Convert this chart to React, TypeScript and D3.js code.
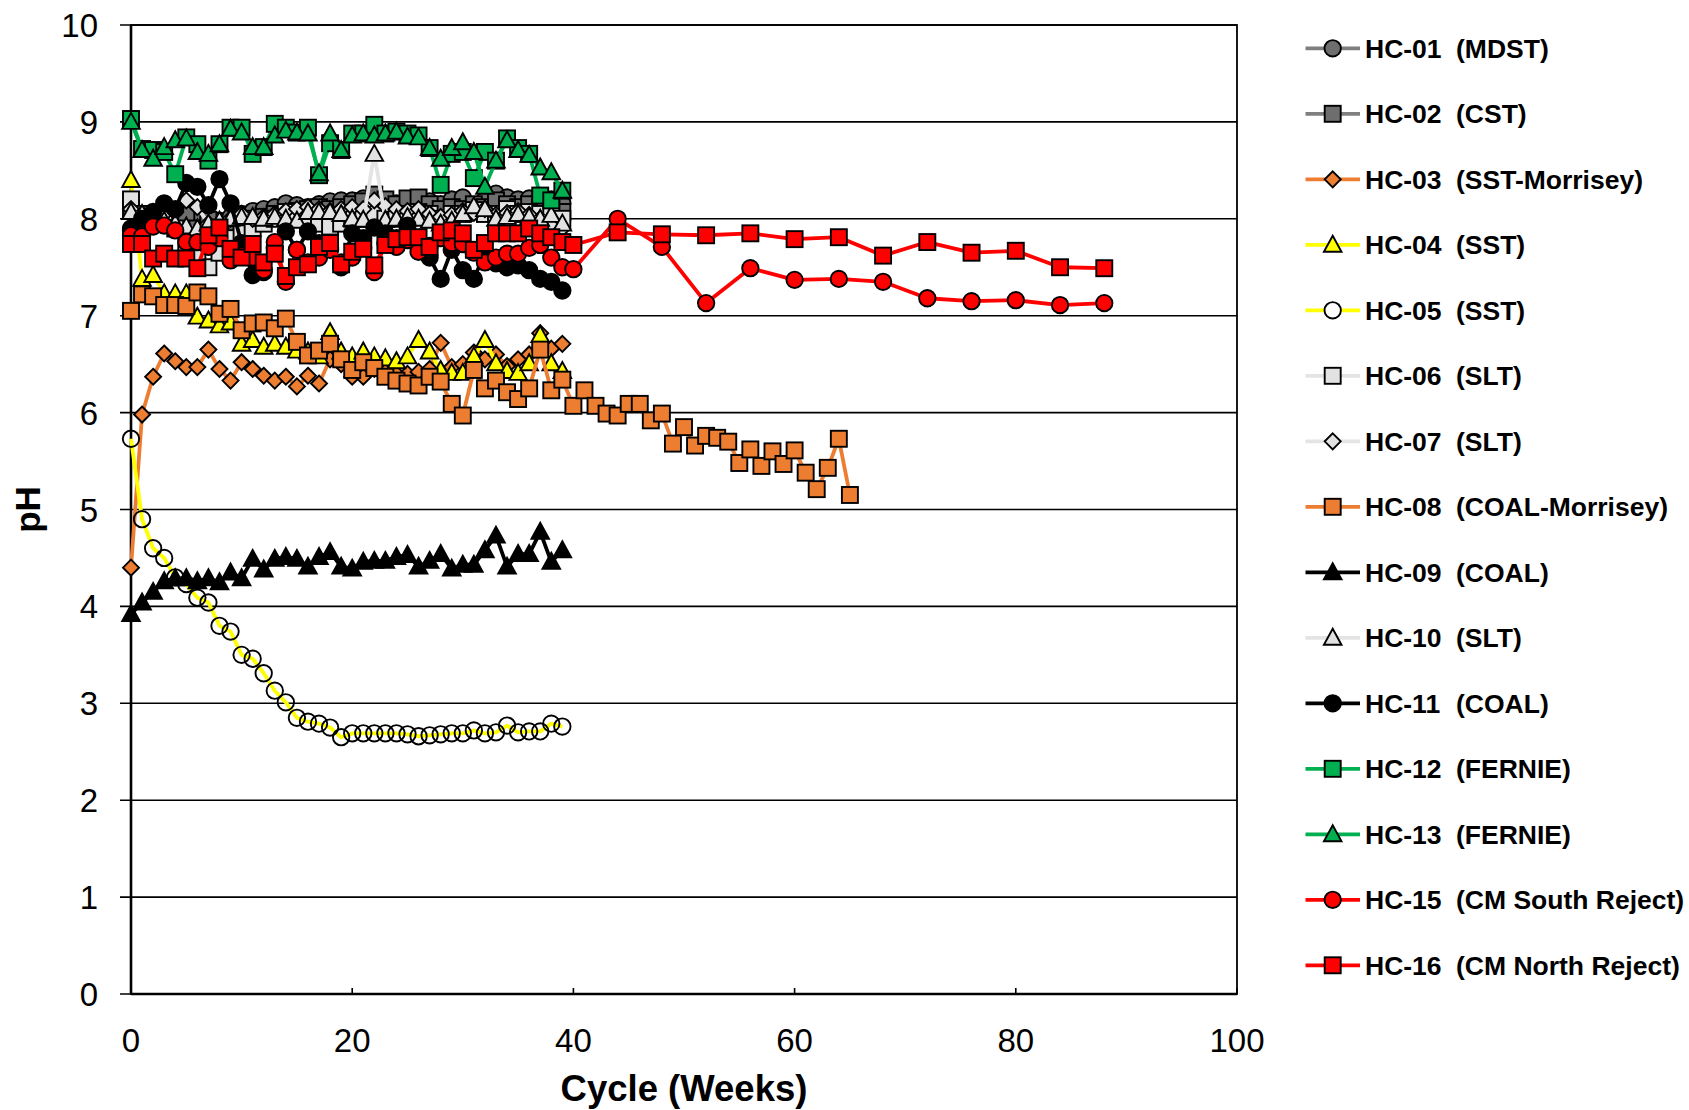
import React from 'react';
import * as d3 from 'd3';

const W = 1689;
const H = 1110;

const X_TICKS = [0, 20, 40, 60, 80, 100];
const Y_TICKS = [0, 1, 2, 3, 4, 5, 6, 7, 8, 9, 10];

const WEEKS_0_39 = d3.range(0, 40);
const WEEKS_0_40 = d3.range(0, 41);
const WEEKS_0_65 = d3.range(0, 66);
const WEEKS_LATE = [44, 48, 52, 56, 60, 64, 68, 72, 76, 80, 84, 88];

const HC01 = [7.88, 7.95, 8.0, 8.0, 8.02, 8.0, 8.05, 8.0, 7.98, 8.02, 8.05, 8.08, 8.1, 8.12, 8.16, 8.14, 8.12, 8.15, 8.18, 8.19, 8.19, 8.21, 8.2, 8.18, 8.16, 8.19, 8.2, 8.18, 8.15, 8.2, 8.22, 8.14, 8.2, 8.26, 8.22, 8.2, 8.21, 8.22, 8.2, 8.16];
const HC02 = [8.1, 8.05, 8.0, 7.98, 7.95, 8.05, 7.9, 7.99, 7.85, 7.9, 7.95, 8.0, 8.02, 8.05, 8.05, 8.08, 8.1, 8.12, 8.1, 8.12, 8.15, 8.18, 8.25, 8.2, 8.15, 8.21, 8.22, 8.15, 8.1, 8.12, 8.1, 8.15, 8.12, 8.19, 8.15, 8.12, 8.15, 8.12, 8.1, 8.07];
const HC03 = [4.4, 5.98, 6.37, 6.61, 6.53, 6.47, 6.47, 6.65, 6.45, 6.33, 6.52, 6.45, 6.38, 6.33, 6.37, 6.27, 6.38, 6.3, 6.55, 6.5, 6.37, 6.37, 6.45, 6.42, 6.4, 6.4, 6.42, 6.45, 6.72, 6.47, 6.5, 6.62, 6.55, 6.6, 6.48, 6.55, 6.6, 6.82, 6.66, 6.71];
const HC04 = [8.4, 7.38, 7.42, 7.23, 7.23, 7.23, 6.99, 6.95, 6.9, 6.93, 6.71, 6.75, 6.68, 6.71, 6.68, 6.64, 6.63, 6.58, 6.83, 6.63, 6.58, 6.63, 6.58, 6.56, 6.53, 6.58, 6.75, 6.63, 6.44, 6.41, 6.41, 6.58, 6.75, 6.51, 6.43, 6.41, 6.51, 6.8, 6.51, 6.43];
const HC05 = [5.73, 4.9, 4.6, 4.5, 4.3, 4.23, 4.09, 4.04, 3.8, 3.74, 3.5, 3.46, 3.31, 3.13, 3.01, 2.85, 2.81, 2.79, 2.75, 2.65, 2.69, 2.69, 2.69, 2.69, 2.69, 2.68, 2.66, 2.67, 2.68, 2.69, 2.69, 2.72, 2.69, 2.7, 2.77, 2.7, 2.71, 2.71, 2.79, 2.76];
const HC06 = [8.2, 8.05, 8.0, 7.95, 7.9, 7.7, 7.6, 7.5, 7.65, 7.8, 7.85, 7.9, 7.95, 8.0, 8.07, 8.0, 7.95, 7.95, 7.92, 7.95, 8.0, 8.0, 8.05, 8.0, 8.0, 8.05, 8.07, 8.05, 8.0, 8.05, 8.05, 8.09, 8.05, 8.05, 8.1, 8.05, 8.07, 8.05, 8.05, 8.0];
const HC07 = [8.1, 8.05, 8.0, 8.05, 8.07, 8.19, 8.12, 7.95, 7.9, 8.0, 8.05, 8.0, 8.02, 8.05, 8.08, 8.1, 8.12, 8.1, 8.08, 8.1, 8.12, 8.1, 8.19, 8.13, 8.1, 8.08, 8.1, 8.05, 8.02, 8.04, 8.08, 8.06, 8.1, 8.04, 8.06, 8.08, 8.04, 8.0, 7.93, 7.9];
const HC08 = [7.05, 7.22, 7.2, 7.11, 7.11, 7.1, 7.24, 7.2, 7.02, 7.07, 6.85, 6.92, 6.93, 6.87, 6.97, 6.73, 6.59, 6.64, 6.71, 6.55, 6.44, 6.52, 6.46, 6.37, 6.33, 6.3, 6.28, 6.37, 6.32, 6.09, 5.97, 6.44, 6.25, 6.33, 6.21, 6.14, 6.25, 6.65, 6.23, 6.34, 6.07, 6.23, 6.07, 5.99, 5.97, 6.09, 6.09, 5.92, 5.99, 5.68, 5.85, 5.66, 5.76, 5.74, 5.7, 5.48, 5.62, 5.45, 5.6, 5.47, 5.61, 5.38, 5.21, 5.43, 5.73, 5.15];
const HC09 = [3.92, 4.04, 4.15, 4.26, 4.29, 4.29, 4.26, 4.29, 4.25, 4.35, 4.29, 4.49, 4.38, 4.49, 4.51, 4.49, 4.41, 4.51, 4.56, 4.41, 4.39, 4.46, 4.47, 4.47, 4.51, 4.53, 4.41, 4.47, 4.54, 4.39, 4.43, 4.43, 4.58, 4.73, 4.41, 4.54, 4.54, 4.77, 4.46, 4.58];
const HC10 = [8.07, 8.05, 8.0, 7.98, 7.95, 7.92, 7.9, 7.95, 7.98, 8.0, 8.02, 8.02, 8.0, 8.02, 8.0, 7.98, 8.07, 8.07, 8.07, 8.05, 8.0, 7.99, 8.67, 7.99, 8.0, 8.02, 8.0, 7.98, 7.95, 7.98, 8.05, 8.13, 8.1, 8.0, 8.02, 8.05, 8.02, 8.0, 8.04, 7.95];
const HC11 = [7.9, 8.0, 8.07, 8.16, 8.1, 8.37, 8.33, 8.14, 8.41, 8.16, 7.75, 7.42, 7.45, 7.7, 7.87, 7.68, 7.87, 7.75, 7.7, 7.5, 7.85, 7.8, 7.91, 7.85, 7.8, 7.93, 7.7, 7.6, 7.38, 7.68, 7.47, 7.38, 7.65, 7.54, 7.5, 7.52, 7.47, 7.38, 7.35, 7.26];
const HC12 = [9.03, 8.72, 8.71, 8.69, 8.46, 8.84, 8.77, 8.6, 8.77, 8.94, 8.94, 8.67, 8.74, 8.98, 8.94, 8.89, 8.94, 8.45, 8.78, 8.71, 8.88, 8.88, 8.97, 8.88, 8.9, 8.88, 8.86, 8.73, 8.35, 8.67, 8.69, 8.42, 8.69, 8.6, 8.83, 8.73, 8.67, 8.24, 8.19, 8.29];
const HC13 = [9.0, 8.71, 8.62, 8.74, 8.81, 8.83, 8.69, 8.67, 8.77, 8.93, 8.89, 8.74, 8.74, 8.86, 8.91, 8.89, 8.88, 8.47, 8.88, 8.71, 8.86, 8.88, 8.86, 8.88, 8.9, 8.85, 8.84, 8.73, 8.62, 8.73, 8.79, 8.69, 8.33, 8.6, 8.81, 8.71, 8.66, 8.53, 8.48, 8.29];
const HC15 = [7.83, 7.82, 7.92, 7.93, 7.88, 7.76, 7.76, 7.71, 7.8, 7.57, 7.62, 7.6, 7.47, 7.76, 7.35, 7.68, 7.55, 7.6, 7.68, 7.55, 7.6, 7.7, 7.45, 7.75, 7.71, 7.78, 7.66, 7.72, 7.8, 7.75, 7.74, 7.65, 7.55, 7.6, 7.64, 7.64, 7.7, 7.73, 7.6, 7.5, 7.48];
const HC15_LATE = [8.0, 7.71, 7.13, 7.49, 7.37, 7.38, 7.35, 7.18, 7.15, 7.16, 7.11, 7.13];
const HC16 = [7.74, 7.74, 7.59, 7.64, 7.59, 7.59, 7.49, 7.83, 7.91, 7.69, 7.6, 7.74, 7.55, 7.64, 7.41, 7.5, 7.53, 7.71, 7.75, 7.53, 7.66, 7.69, 7.52, 7.73, 7.79, 7.81, 7.81, 7.71, 7.86, 7.88, 7.85, 7.68, 7.75, 7.85, 7.85, 7.85, 7.9, 7.85, 7.81, 7.76, 7.73];
const HC16_LATE = [7.86, 7.84, 7.83, 7.85, 7.79, 7.81, 7.62, 7.76, 7.65, 7.67, 7.5, 7.49];

type Mk = 'circle' | 'square' | 'diamond' | 'triangle';
interface Series {
  id: string;
  rock: string;
  line: string;
  fill: string;
  marker: Mk;
  weeks: number[];
  values: number[];
}

const SERIES: Series[] = [
  { id: 'HC-01', rock: '(MDST)', line: '#7f7f7f', fill: '#6e6e6e', marker: 'circle', weeks: WEEKS_0_39, values: HC01 },
  { id: 'HC-02', rock: '(CST)', line: '#7f7f7f', fill: '#6e6e6e', marker: 'square', weeks: WEEKS_0_39, values: HC02 },
  { id: 'HC-03', rock: '(SST-Morrisey)', line: '#ed7d31', fill: '#ed7d31', marker: 'diamond', weeks: WEEKS_0_39, values: HC03 },
  { id: 'HC-04', rock: '(SST)', line: '#ffff00', fill: '#ffff00', marker: 'triangle', weeks: WEEKS_0_39, values: HC04 },
  { id: 'HC-05', rock: '(SST)', line: '#ffff00', fill: 'none', marker: 'circle', weeks: WEEKS_0_39, values: HC05 },
  { id: 'HC-06', rock: '(SLT)', line: '#e4e4e4', fill: '#e2e2e2', marker: 'square', weeks: WEEKS_0_39, values: HC06 },
  { id: 'HC-07', rock: '(SLT)', line: '#e4e4e4', fill: '#e2e2e2', marker: 'diamond', weeks: WEEKS_0_39, values: HC07 },
  { id: 'HC-08', rock: '(COAL-Morrisey)', line: '#ed7d31', fill: '#ed7d31', marker: 'square', weeks: WEEKS_0_65, values: HC08 },
  { id: 'HC-09', rock: '(COAL)', line: '#000000', fill: '#000000', marker: 'triangle', weeks: WEEKS_0_39, values: HC09 },
  { id: 'HC-10', rock: '(SLT)', line: '#e4e4e4', fill: '#e2e2e2', marker: 'triangle', weeks: WEEKS_0_39, values: HC10 },
  { id: 'HC-11', rock: '(COAL)', line: '#000000', fill: '#000000', marker: 'circle', weeks: WEEKS_0_39, values: HC11 },
  { id: 'HC-12', rock: '(FERNIE)', line: '#00b050', fill: '#00b050', marker: 'square', weeks: WEEKS_0_39, values: HC12 },
  { id: 'HC-13', rock: '(FERNIE)', line: '#00b050', fill: '#00b050', marker: 'triangle', weeks: WEEKS_0_39, values: HC13 },
  { id: 'HC-15', rock: '(CM South Reject)', line: '#ff0000', fill: '#ff0000', marker: 'circle', weeks: WEEKS_0_40.concat(WEEKS_LATE), values: HC15.concat(HC15_LATE) },
  { id: 'HC-16', rock: '(CM North Reject)', line: '#ff0000', fill: '#ff0000', marker: 'square', weeks: WEEKS_0_40.concat(WEEKS_LATE), values: HC16.concat(HC16_LATE) },
];

const FONT = '"Liberation Sans", Arial, Helvetica, sans-serif';

function Marker({ type, x, y, fill }: { type: Mk; x: number; y: number; fill: string }) {
  const common = { fill, stroke: '#000', strokeWidth: 1.9 } as any;
  if (type === 'circle') return <circle cx={x} cy={y} r={8.2} {...common} />;
  if (type === 'square') return <rect x={x - 8} y={y - 8} width={16} height={16} {...common} />;
  if (type === 'diamond') return <path d={`M${x},${y - 8}L${x + 8},${y}L${x},${y + 8}L${x - 8},${y}Z`} {...common} />;
  return <path d={`M${x},${y - 9}L${x + 8.8},${y + 7}L${x - 8.8},${y + 7}Z`} {...common} />;
}

export default function App() {
  const left = 131, right = 1237, top = 25, bottom = 994;
  const x = d3.scaleLinear().domain([0, 100]).range([left, right]);
  const y = d3.scaleLinear().domain([0, 10]).range([bottom, top]);
  const line = d3.line<[number, number]>().x(d => x(d[0])).y(d => y(d[1]));

  const legendX = 1305.5;
  const legendY0 = 48.3;
  const legendDy = 65.5;

  return (
    <div style={{ position: 'absolute', left: 0, top: 0 }}>
      <svg width={W} height={H} style={{ display: 'block', background: '#fff' }}>
        <rect x={0} y={0} width={W} height={H} fill="#fff" />
        {Y_TICKS.map(t => (
          <line key={'g' + t} x1={left - 11} x2={right} y1={y(t)} y2={y(t)} stroke="#000" strokeWidth={1.6} />
        ))}
        {X_TICKS.map(t => (
          <line key={'xt' + t} x1={x(t)} x2={x(t)} y1={bottom} y2={bottom - 6} stroke="#000" strokeWidth={1.6} />
        ))}
        <rect x={left} y={top} width={right - left} height={bottom - top} fill="none" stroke="#000" strokeWidth={1.8} />
        <line x1={left} x2={left} y1={top} y2={bottom} stroke="#000" strokeWidth={2.6} />
        <line x1={left} x2={right} y1={bottom} y2={bottom} stroke="#000" strokeWidth={2.6} />

        {SERIES.map(s => {
          const pts: [number, number][] = s.weeks.map((w, i) => [w, s.values[i]]);
          return (
            <g key={s.id}>
              <path d={line(pts) ?? ''} fill="none" stroke={s.line} strokeWidth={3.8} strokeLinejoin="round" />
              {pts.map((p, i) => (
                <Marker key={i} type={s.marker} x={x(p[0])} y={y(p[1])} fill={s.fill} />
              ))}
            </g>
          );
        })}

        {Y_TICKS.map(t => (
          <text key={'yl' + t} x={98} y={y(t) + 12} textAnchor="end" fontFamily={FONT} fontSize={33} fill="#000">{t}</text>
        ))}
        {X_TICKS.map(t => (
          <text key={'xl' + t} x={x(t)} y={1052} textAnchor="middle" fontFamily={FONT} fontSize={33} fill="#000">{t}</text>
        ))}
        <text x={(left + right) / 2} y={1101} textAnchor="middle" fontFamily={FONT} fontSize={36.5} fontWeight="bold" fill="#000">Cycle (Weeks)</text>
        <text transform={`translate(40,${(top + bottom) / 2}) rotate(-90)`} textAnchor="middle" fontFamily={FONT} fontSize={35} fontWeight="bold" fill="#000">pH</text>

        {SERIES.map((s, i) => {
          const cy = legendY0 + i * legendDy;
          return (
            <g key={'lg' + s.id}>
              <line x1={legendX} x2={legendX + 54.5} y1={cy} y2={cy} stroke={s.line} strokeWidth={3.8} />
              <Marker type={s.marker} x={legendX + 27.2} y={cy} fill={s.fill === 'none' ? '#fff' : s.fill} />
              <text x={1365} y={cy + 9.5} fontFamily={FONT} fontSize={26.5} fontWeight="bold" fill="#000">{s.id}</text>
              <text x={1456} y={cy + 9.5} fontFamily={FONT} fontSize={26.5} fontWeight="bold" fill="#000">{s.rock}</text>
            </g>
          );
        })}
      </svg>
    </div>
  );
}
